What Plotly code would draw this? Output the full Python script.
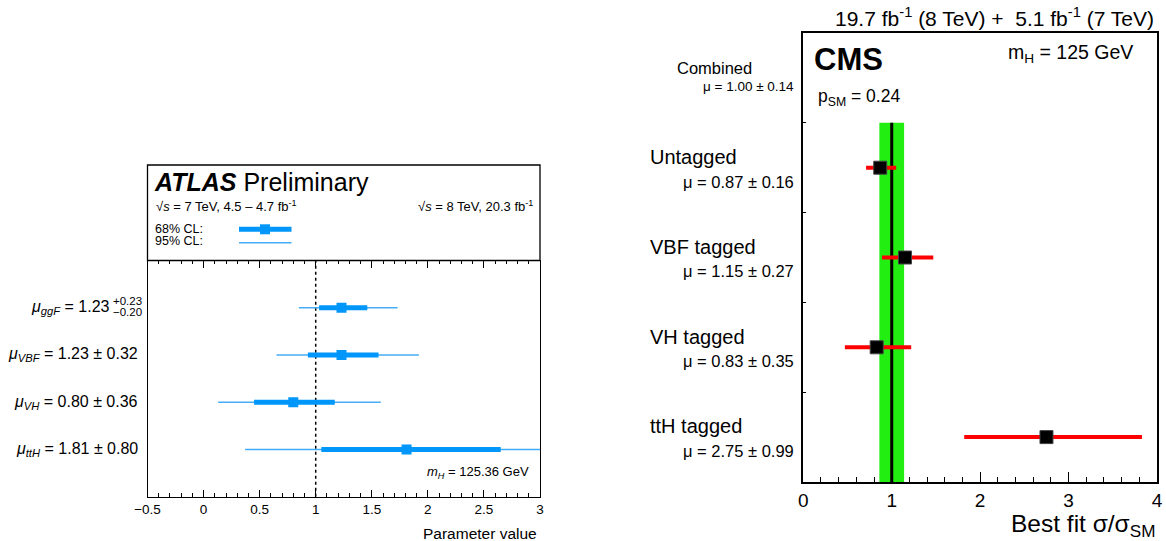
import plotly.graph_objects as go

W, H = 1166, 541
FONT = "Liberation Sans"

# ---------------- ATLAS data ----------------
atlas_labels = ["ggF", "VBF", "VH", "ttH"]
atlas_rows = [1, 2, 3, 4]
atlas_mu = [1.23, 1.23, 0.80, 1.81]
atlas_lo68 = [1.03, 0.93, 0.45, 1.05]
atlas_hi68 = [1.46, 1.56, 1.17, 2.65]
atlas_lo95 = [0.85, 0.65, 0.13, 0.37]
atlas_hi95 = [1.73, 1.92, 1.58, 3.30]
atlas_text = ["1.23", "1.23 ± 0.32", "0.80 ± 0.36", "1.81 ± 0.80"]
atlas_ggf_up, atlas_ggf_dn = "+0.23", "−0.20"
atlas_sm = 1.0

# ---------------- CMS data ----------------
cms_labels = ["Untagged", "VBF tagged", "VH tagged", "ttH tagged"]
cms_rows = [1, 2, 3, 4]
cms_mu = [0.87, 1.15, 0.83, 2.75]
cms_lo = [0.71, 0.89, 0.47, 1.82]
cms_hi = [1.05, 1.47, 1.22, 3.83]
cms_text = ["μ = 0.87 ± 0.16", "μ = 1.15 ± 0.27", "μ = 0.83 ± 0.35", "μ = 2.75 ± 0.99"]
comb_mu, comb_err = 1.00, 0.14


def PX(x):
    return x / W


def PY(y):
    return 1 - y / H


ATL_THICK = "#0096fa"
ATL_THIN = "#46acf5"

fig = go.Figure()

# ATLAS 95% (thin)
fig.add_trace(go.Scatter(
    x=atlas_mu, y=atlas_rows, mode="markers", xaxis="x", yaxis="y",
    marker=dict(size=1, color="rgba(0,0,0,0)"),
    error_x=dict(type="data", symmetric=False,
                 array=[h - m for h, m in zip(atlas_hi95, atlas_mu)],
                 arrayminus=[m - l for m, l in zip(atlas_mu, atlas_lo95)],
                 color=ATL_THIN, thickness=1.6, width=0),
    showlegend=False, hoverinfo="skip"))
# ATLAS 68% (thick) + markers
fig.add_trace(go.Scatter(
    x=atlas_mu, y=atlas_rows, mode="markers", xaxis="x", yaxis="y",
    marker=dict(size=10, symbol="square", color=ATL_THICK),
    error_x=dict(type="data", symmetric=False,
                 array=[h - m for h, m in zip(atlas_hi68, atlas_mu)],
                 arrayminus=[m - l for m, l in zip(atlas_mu, atlas_lo68)],
                 color=ATL_THICK, thickness=5, width=0),
    showlegend=False))

# CMS
fig.add_trace(go.Scatter(
    x=cms_mu, y=cms_rows, mode="markers", xaxis="x2", yaxis="y2",
    marker=dict(size=13, symbol="square", color="black",
                line=dict(color="#444444", width=1)),
    error_x=dict(type="data", symmetric=False,
                 array=[h - m for h, m in zip(cms_hi, cms_mu)],
                 arrayminus=[m - l for m, l in zip(cms_mu, cms_lo)],
                 color="#ff0000", thickness=4, width=0),
    showlegend=False))

shapes = []
# ATLAS SM dashed line
shapes.append(dict(type="line", xref="x", yref="y domain", x0=atlas_sm, x1=atlas_sm,
                   y0=0, y1=1, line=dict(color="black", width=1.5, dash="3px,3px"),
                   layer="below"))
# ATLAS header box
shapes.append(dict(type="rect", xref="paper", yref="paper", x0=PX(147.5), x1=PX(540),
                   y0=PY(260.5), y1=PY(165), line=dict(color="black", width=1.3)))
# ATLAS legend samples
shapes.append(dict(type="line", xref="paper", yref="paper", x0=PX(239), x1=PX(291.5),
                   y0=PY(229.3), y1=PY(229.3), line=dict(color=ATL_THICK, width=5)))
shapes.append(dict(type="rect", xref="paper", yref="paper", x0=PX(260), x1=PX(270),
                   y0=PY(234.3), y1=PY(224.3), line=dict(width=0), fillcolor=ATL_THICK))
shapes.append(dict(type="line", xref="paper", yref="paper", x0=PX(239), x1=PX(291.5),
                   y0=PY(242.7), y1=PY(242.7), line=dict(color=ATL_THIN, width=1.6)))
# CMS combined band and line
shapes.append(dict(type="rect", xref="x2", yref="y2", x0=comb_mu - comb_err,
                   x1=comb_mu + comb_err, y0=0.5, y1=4.5, fillcolor="#22ee11",
                   line=dict(width=0), layer="below"))
shapes.append(dict(type="line", xref="x2", yref="y2", x0=comb_mu, x1=comb_mu,
                   y0=0.5, y1=4.5, line=dict(color="black", width=3), layer="below"))

ann = []


def A(text, x, y, size, xanchor="left", xref="paper", yref="paper", yanchor="middle"):
    ann.append(dict(text=text, x=x, y=y, xref=xref, yref=yref, xanchor=xanchor,
                    yanchor=yanchor, showarrow=False,
                    font=dict(family=FONT, size=size, color="black")))


# ATLAS texts
A("<b><i>ATLAS</i></b> Preliminary", PX(152), PY(182), 25)
A("√<i>s</i> = 7 TeV, 4.5 – 4.7 fb<sup>-1</sup>", PX(154), PY(206), 13)
A("√<i>s</i> = 8 TeV, 20.3 fb<sup>-1</sup>", PX(535), PY(206), 13, xanchor="right")
A("68% CL:", PX(153), PY(228.8), 12.5)
A("95% CL:", PX(153), PY(241.2), 12.5)
A("<i>m<sub>H</sub></i> = 125.36 GeV", PX(531), PY(472.5), 13, xanchor="right")
A("Parameter value", PX(539), PY(533), 15.5, xanchor="right")
for i, (lab, r, t) in enumerate(zip(atlas_labels, atlas_rows, atlas_text)):
    if i == 0:
        A(f"<i>μ<sub>{lab}</sub></i> = {t}", PX(112), r, 16, xanchor="right", yref="y")
        A(atlas_ggf_up, PX(111), r - 0.15, 11.5, yref="y")
        A(atlas_ggf_dn, PX(111), r + 0.10, 11.5, yref="y")
    else:
        A(f"<i>μ<sub>{lab}</sub></i> = {t}", PX(140), r, 16, xanchor="right", yref="y")

# CMS texts
A("19.7 fb<sup>-1</sup> (8 TeV) +  5.1 fb<sup>-1</sup> (7 TeV)", PX(1156), PY(17), 21,
  xanchor="right")
A("<b>CMS</b>", PX(812), PY(59), 31)
A("m<sub>H</sub> = 125 GeV", PX(1006), PY(53), 19.5)
A("p<sub>SM</sub> = 0.24", PX(816), PY(97), 17.5)
A("Combined", PX(675), PY(68), 16.5)
A("μ = 1.00 ± 0.14", PX(796), PY(86), 13.5, xanchor="right")
for lab, r, t in zip(cms_labels, cms_rows, cms_text):
    A(lab, PX(648), r - 0.12, 20, yref="y2")
    A(t, PX(796), r + 0.155, 16.5, xanchor="right", yref="y2")
A("Best fit σ/σ<sub>SM</sub>", PX(1157), PY(525), 24.5, xanchor="right")

fig.update_layout(
    template="none",
    width=W, height=H, margin=dict(l=0, r=0, t=0, b=0, pad=0), autosize=False,
    paper_bgcolor="white", plot_bgcolor="white",
    font=dict(family=FONT, color="black"),
    showlegend=False,
    xaxis=dict(domain=[PX(147.5), PX(540)], range=[-0.5, 3], dtick=0.5, tick0=-0.5,
               ticks="inside", ticklen=7, tickwidth=1, tickcolor="black",
               minor=dict(dtick=0.1, ticks="inside", ticklen=3.5, tickcolor="black"),
               showline=True, linecolor="black", linewidth=1.3, mirror="ticks",
               showgrid=False, zeroline=False, tickfont=dict(size=13.5, family=FONT),
               anchor="y", automargin=False),
    yaxis=dict(domain=[PY(496.7), PY(260.5)], range=[5, 0], showticklabels=False,
               ticks="", showline=True, linecolor="black", linewidth=1.3, mirror=True,
               showgrid=False, zeroline=False, anchor="x", automargin=False),
    xaxis2=dict(domain=[PX(803.3), PX(1157)], range=[0, 4], dtick=1,
                ticks="inside", ticklen=10, tickwidth=1.2, tickcolor="black",
                minor=dict(dtick=0.2, ticks="inside", ticklen=5, tickcolor="black"),
                showline=True, linecolor="black", linewidth=1.8, mirror=True,
                showgrid=False, zeroline=False, tickfont=dict(size=19, family=FONT),
                anchor="y2", automargin=False),
    yaxis2=dict(domain=[PY(482), PY(33)], range=[4.5, -0.5],
                tickvals=[0.5, 1.5, 2.5, 3.5], ticks="inside", ticklen=3,
                tickcolor="black", showticklabels=False,
                showline=True, linecolor="black", linewidth=1.8, mirror=True,
                showgrid=False, zeroline=False, anchor="x2", automargin=False),
    shapes=shapes, annotations=ann,
)

fig.write_html(
    "out.html",
    config={"displayModeBar": False},
    post_script=("document.body.style.margin='0';document.body.style.overflow='hidden';"
                 "Plotly.Plots.resize(document.getElementById('{plot_id}'));"),
)
